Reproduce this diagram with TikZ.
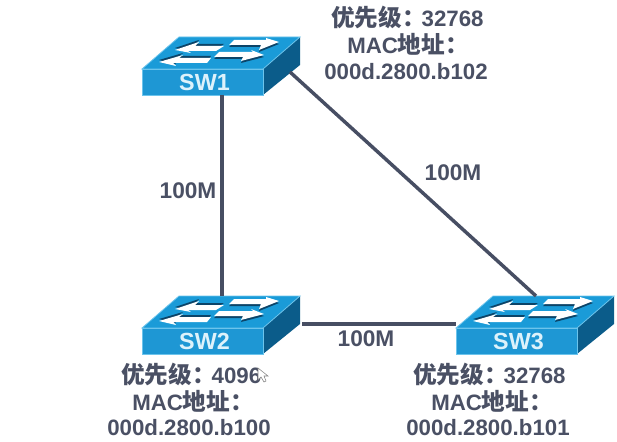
\documentclass[tikz,border=0pt]{standalone}
\usepackage{fontspec}
\setmainfont{Liberation Sans}
\newfontfamily\cjk[Scale=1.06]{Noto Sans CJK SC}
\definecolor{swtop}{HTML}{1A9BD8}
\definecolor{swfront}{HTML}{1E97D4}
\definecolor{swside}{HTML}{0B5C8A}
\definecolor{swedge}{HTML}{6CC4EC}
\definecolor{swshade}{HTML}{0C4468}
\definecolor{swtext}{HTML}{DDF2FB}
\definecolor{linkcol}{HTML}{474E63}
\definecolor{textcol}{HTML}{4A5064}
% one arrow on the lid, with its shadow: shift, then outline
\newcommand{\lidarrow}[2]{
  \fill[swshade,shift={#1}] #2 -- cycle;
  \fill[white] #2 -- cycle;
}
% name, x, y, label (x,y is the top left corner of the front face)
\newcommand{\switchbox}[4]{
  \begin{scope}[shift={(#2,#3)}]
    \fill[swtop] (0,0) -- (37,-32) -- (158,-32) -- (121,0) -- cycle;
    \fill[swside] (121,0) -- (158,-32) -- (158,-4) -- (121,26) -- cycle;
    \draw[swedge,line width=0.6pt] (0,0) -- (37,-32) -- (158,-32) -- (121,0) -- cycle;
    \lidarrow{(0,-2)}{(33,-19) -- (57,-27) -- (53,-23) -- (82,-23) -- (74,-18) -- (46,-18) -- (49,-16)}
    \lidarrow{(0,-2)}{(17,-7) -- (41,-14) -- (37,-11) -- (69,-11) -- (65,-6) -- (31,-6) -- (34,-3)}
    \lidarrow{(0,2)}{(92,-29) -- (124,-29) -- (124,-31) -- (137,-27) -- (117,-19) -- (119,-24) -- (87,-24)}
    \lidarrow{(0,2)}{(77,-17) -- (111,-17) -- (109,-19) -- (122,-14) -- (99,-8) -- (101,-12) -- (72,-12)}
    \node[switch] (#1) at (60.5,13) {\hspace*{3pt}#4};
    \coordinate (#1up) at (80,-32);
    \coordinate (#1down) at (80,26);
    \coordinate (#1right) at (160,-4);
    \coordinate (#1left) at (0,-4);
    \coordinate (#1diag) at (148,3);
  \end{scope}
}
\newcommand{\prio}[1]{{\cjk 优先级：}\kern-3pt #1}
\begin{document}
\begin{tikzpicture}[x=0.75pt,y=-0.75pt,
  switch/.style={fill=swfront,draw=swedge,line width=0.6pt,inner sep=0pt,minimum width=90.75pt,minimum height=19.5pt,text=swtext,font=\bfseries\fontsize{17.5}{17.5}\selectfont},
  link/.style={linkcol,line width=2.6pt},
  speed/.style={text=textcol,font=\bfseries\fontsize{17}{17}\selectfont},
  info/.style={text=textcol,inner sep=0pt,anchor=west,font=\bfseries\fontsize{16.7}{16.7}\selectfont}]
\useasboundingbox (0,0) rectangle (617,442);

% switches:
\switchbox{sw1}{142}{69}{SW1}
\switchbox{sw2}{142}{328}{SW2}
\switchbox{sw3}{456}{328}{SW3}

% links:
\draw[link] (sw1down) -- (sw2up);
\draw[link] (sw1diag) -- (sw3up);
\draw[link] (sw2right) -- (sw3left);
\path (188,191) node[speed] (l12) {100M};
\path (453,173) node[speed] (l13) {100M};
\path (366,339) node[speed] (l23) {100M};

% labels:
\path (331,17) node[info] (pri1) {\prio{32768}};
\path (347,44) node[info] (mac1) {MAC{\cjk 地址：}};
\path (324,72) node[info] (addr1) {000d.2800.b102};
\path (121,374) node[info] (pri2) {\prio{4096}};
\path (132,401) node[info] (mac2) {MAC{\cjk 地址：}};
\path (107,428) node[info] (addr2) {000d.2800.b100};
\path (413,374) node[info] (pri3) {\prio{32768}};
\path (431,401) node[info] (mac3) {MAC{\cjk 地址：}};
\path (406,428) node[info] (addr3) {000d.2800.b101};

% cursor:
\draw[gray,fill=white,line width=0.4pt] (258,368) -- (258,380) -- (261,377) -- (264,382) -- (266,381) -- (264,376) -- (268,376) -- cycle;

\end{tikzpicture}
\end{document}
